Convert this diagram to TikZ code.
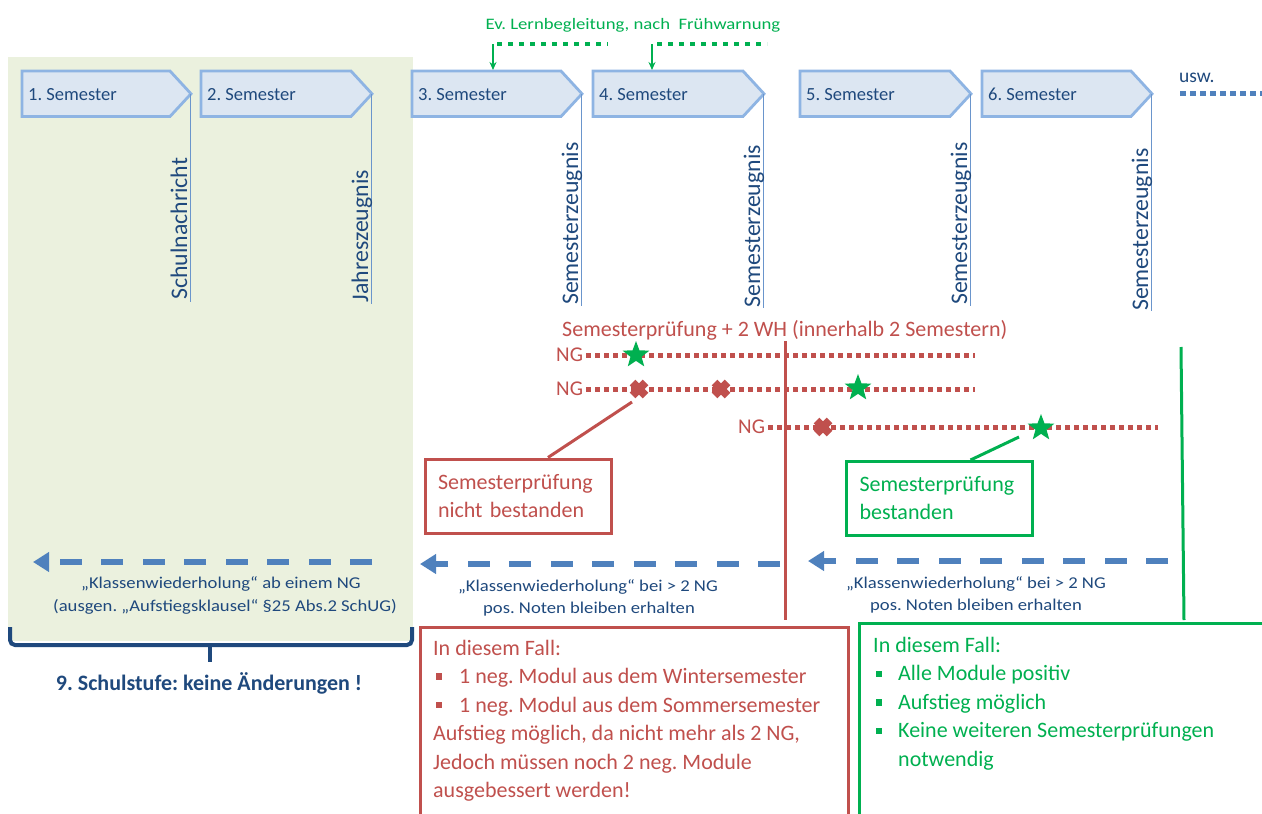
\documentclass[tikz,border=0pt]{standalone}
\usepackage{fontspec}
\setmainfont{Carlito}
\newfontfamily\stretchA{Carlito}[FakeStretch=1.17]
\newfontfamily\stretchB{Carlito}[FakeStretch=1.13]
\usetikzlibrary{arrows.meta,shapes.geometric,calc}
\definecolor{bgg}{HTML}{EBF1DE}
\definecolor{semfill}{HTML}{DCE6F2}
\definecolor{semline}{HTML}{8EB4E3}
\definecolor{vline}{HTML}{6A95CC}
\definecolor{dblue}{HTML}{1F497D}
\definecolor{arrblue}{HTML}{4F81BD}
\definecolor{cred}{HTML}{C0504D}
\definecolor{cgreen}{HTML}{00B050}
\frenchspacing
\newcommand{\fsz}[1]{\fontsize{#1}{#1}\selectfont}
\newcommand{\chevron}[4]{%
  \draw[chev] (#1,71) -- ({#2-21},71) -- (#2,93.8) -- ({#2-21},116.5) -- (#1,116.5) -- cycle;
  \node[semlbl] (#3) at ({#1+6},100.7) {#4};
  \coordinate (#3t) at ({#2-0.5},93.8);}
\begin{document}
\begin{tikzpicture}[x=1pt,y=-1pt,
  chev/.style={draw=semline, fill=semfill, line width=2.8pt},
  semlbl/.style={anchor=base west, inner sep=0pt, text=dblue, font=\fsz{18.5}},
  tick/.style={draw=vline, line width=1.5pt},
  vlbl/.style={rotate=90, anchor=base west, inner sep=0pt, text=dblue, font=\fsz{23.8}},
  gdot/.style={draw=cgreen, line width=4.5pt, dash pattern=on 5pt off 6pt},
  garrow/.style={draw=cgreen, line width=1.3pt, -{Stealth[length=8pt,width=7pt]}},
  rdot/.style={draw=cred, line width=5pt, dash pattern=on 5pt off 4pt},
  udot/.style={draw=arrblue, line width=5pt, dash pattern=on 6pt off 4pt},
  ngl/.style={anchor=base west, inner sep=0pt, text=cred, font=\fsz{21}},
  gstar/.style={star, star points=5, star point ratio=2.4, fill=cgreen, minimum size=28pt, inner sep=0pt},
  rx/.style={draw=cred, line width=8pt},
  callout/.style={line width=3pt, inner ysep=0pt, inner xsep=13pt, text width=160pt, minimum height=74pt, align=left, font=\fontsize{22}{28}\selectfont},
  bdash/.style={draw=arrblue, line width=6pt, dash pattern=on 22pt off 19.5pt, -{Triangle[length=16pt,width=19pt]}},
  ut/.style={anchor=base, inner sep=0pt, text=dblue, font=\stretchB\fsz{16.5}},
  brace/.style={draw=dblue, line width=4pt, rounded corners=5pt},
  rt/.style={anchor=base west, inner sep=0pt, text=cred, font=\fsz{22}},
  gt/.style={anchor=base west, inner sep=0pt, text=cgreen, font=\fsz{22}},
  rbul/.style={fill=cred, minimum size=6.5pt, inner sep=0pt},
  gbul/.style={fill=cgreen, minimum size=6.5pt, inner sep=0pt}
]
\useasboundingbox (0,0) rectangle (1262,814);
\clip (0,0) rectangle (1262,814);
\fill[white] (0,0) rectangle (1262,814);
\fill[bgg] (8,57) rectangle (413,641);

% semester chevrons
\chevron{22}{191}{s1}{1. Semester}
\chevron{201}{372}{s2}{2. Semester}
\chevron{412}{582}{s3}{3. Semester}
\chevron{593}{764}{s4}{4. Semester}
\chevron{800}{971}{s5}{5. Semester}
\chevron{982}{1152}{s6}{6. Semester}

\node[anchor=base west, inner sep=0pt, text=dblue, font=\fsz{19.5}] (usw) at (1179,82) {usw.};
\coordinate (u1) at (1180,93.5);
\coordinate (u2) at (1262,93.5);
\draw[udot] (u1) -- (u2);

% vertical ticks and labels
\coordinate (s1b) at (190.5,302);
\coordinate (s2b) at (371.5,304);
\coordinate (s3b) at (581.5,306);
\coordinate (s4b) at (763.5,308);
\coordinate (s5b) at (970.5,306);
\coordinate (s6b) at (1151.5,311);
\foreach \i in {1,...,6}{\draw[tick] (s\i t) -- (s\i b);}
\node[vlbl] (z1) at (187,300) {Schulnachricht};
\node[vlbl] (z2) at (368,302.5) {Jahreszeugnis};
\node[vlbl] (z3) at (578,305) {Semesterzeugnis};
\node[vlbl] (z4) at (760,307.5) {Semesterzeugnis};
\node[vlbl] (z5) at (967,305) {Semesterzeugnis};
\node[vlbl] (z6) at (1148,311) {Semesterzeugnis};

% early warning
\node[anchor=base, inner sep=0pt, text=cgreen, font=\stretchA\fsz{16}] (ev) at (633,29) {Ev. Lernbegleitung, nach\ \ Frühwarnung};
\coordinate (g1a) at (497,44);
\coordinate (g1b) at (608,44);
\coordinate (g2a) at (657,44);
\coordinate (g2b) at (767,44);
\draw[gdot] (g1a) -- (g1b);
\draw[gdot] (g2a) -- (g2b);
\coordinate (a1s) at (493,44);
\coordinate (a1e) at (493,70);
\coordinate (a2s) at (652,44);
\coordinate (a2e) at (652,70);
\draw[garrow] (a1s) -- (a1e);
\draw[garrow] (a2s) -- (a2e);

% exam rows
\node[anchor=base west, inner sep=0pt, text=cred, font=\fsz{22}] (hd) at (562,336) {Semesterprüfung + 2 WH (innerhalb 2 Semestern)};
\node[ngl] (ng1) at (556,361.5) {NG};
\node[ngl] (ng2) at (556,395) {NG};
\node[ngl] (ng3) at (738,433) {NG};
\coordinate (r1e) at (975,355);
\coordinate (r2e) at (975,389);
\coordinate (r3e) at (1158,427);
\draw[rdot] (ng1.east |- r1e) ++(3,0) -- (r1e);
\draw[rdot] (ng2.east |- r2e) ++(3,0) -- (r2e);
\draw[rdot] (ng3.east |- r3e) ++(3,0) -- (r3e);

\coordinate (rv1) at (785,341);
\coordinate (rv2) at (785,620);
\draw[cred, line width=3pt] (rv1) -- (rv2);
\coordinate (gv1) at (1181,347);
\coordinate (gv2) at (1184,620);
\draw[cgreen, line width=3pt] (gv1) -- (gv2);

\coordinate (x1) at (639,389);
\coordinate (x2) at (721,389);
\coordinate (x3) at (823,427);
\foreach \p in {x1,x2,x3}{
  \draw[rx] ($(\p)+(-6.5,-6.5)$) -- ($(\p)+(6.5,6.5)$) ($(\p)+(-6.5,6.5)$) -- ($(\p)+(6.5,-6.5)$);}
\node[gstar] (st1) at (636,355) {};
\node[gstar] (st2) at (858,388) {};
\node[gstar] (st3) at (1041,428) {};

% callouts
\node[callout, draw=cred, text=cred, minimum width=186pt] (nb) at (518,496) {Semesterprüfung\\nicht bestanden};
\coordinate (cx1) at (632,402);
\draw[cred, line width=3pt] ([xshift=30pt]nb.north) -- (cx1);
\node[callout, draw=cgreen, text=cgreen, minimum width=185pt] (pb) at (939.5,498.5) {Semesterprüfung\\bestanden};
\coordinate (cx2) at (1019,437);
\draw[cgreen, line width=3pt] ([xshift=31pt]pb.north) -- (cx2);

% dashed arrows
\coordinate (d1s) at (372,562);
\coordinate (d1e) at (33,562);
\coordinate (d2s) at (780,564);
\coordinate (d2e) at (420,564);
\coordinate (d3s) at (1168,561);
\coordinate (d3e) at (808,561);
\draw[bdash] (d1s) -- (d1e);
\draw[bdash] (d2s) -- (d2e);
\draw[bdash] (d3s) -- (d3e);

\node[ut] (kl1) at (221,588) {„Klassenwiederholung“ ab einem NG};
\node[ut] (kl2) at (225,611) {(ausgen. „Aufstiegsklausel“ §25 Abs.2 SchUG)};
\node[ut] (km1) at (588,591) {„Klassenwiederholung“ bei > 2 NG};
\node[ut] (km2) at (589,613) {pos. Noten bleiben erhalten};
\node[ut] (kr1) at (976,588) {„Klassenwiederholung“ bei > 2 NG};
\node[ut] (kr2) at (976,610) {pos. Noten bleiben erhalten};

% brace
\draw[brace] (10,627) -- (10,645) -- (412,645) -- (412,627);
\draw[brace] (210,645) -- (210,662);
\node[anchor=base, inner sep=0pt, text=dblue, font=\bfseries\fsz{22}] (stufe) at (209,690) {9. Schulstufe: keine Änderungen !};

% red case box
\draw[cred, line width=3pt] (420,830) -- (420,627) -- (848,627) -- (848,830);
\node[rt] (ra) at (433,655) {In diesem Fall:};
\node[rbul] (rb1) at (439,676.5) {};
\node[rt] (rc) at (459,683.5) {1 neg. Modul aus dem Wintersemester};
\node[rbul] (rb2) at (439,705) {};
\node[rt] (rd) at (459,712) {1 neg. Modul aus dem Sommersemester};
\node[rt] (re) at (433,740.5) {Aufstieg möglich, da nicht mehr als 2 NG,};
\node[rt] (rf) at (433,769) {Jedoch müssen noch 2 neg. Module};
\node[rt] (rg) at (433,797.5) {ausgebessert werden!};

% green case box
\draw[cgreen, line width=3pt] (859,830) -- (859,623) -- (1270,623);
\node[gt] (ga) at (873,652) {In diesem Fall:};
\node[gbul] (gb1) at (879,674) {};
\node[gt] (gc) at (898,680.5) {Alle Module positiv};
\node[gbul] (gb2) at (879,702.5) {};
\node[gt] (gd) at (898,709) {Aufstieg möglich};
\node[gbul] (gb3) at (879,731) {};
\node[gt] (ge) at (898,737.5) {Keine weiteren Semesterprüfungen};
\node[gt] (gf) at (898,766) {notwendig};
\end{tikzpicture}
\end{document}
